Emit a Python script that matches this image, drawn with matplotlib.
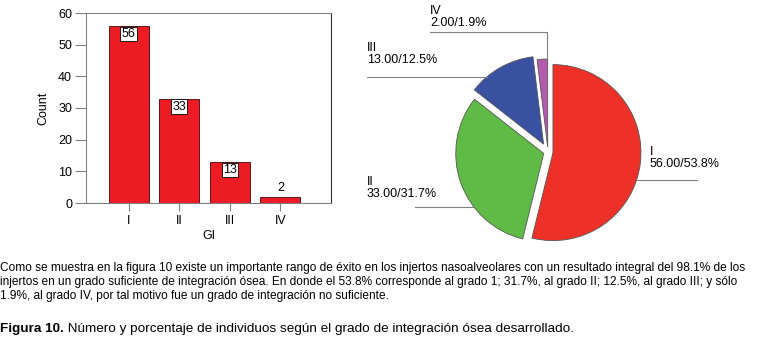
import matplotlib
matplotlib.use('Agg')
import matplotlib.pyplot as plt
import numpy as np

plt.rcParams['font.family'] = ['Liberation Sans', 'DejaVu Sans']

# datos
grados = ['I', 'II', 'III', 'IV']
conteo = [56, 33, 13, 2]
colores_pie = ['#EE3128', '#60BA46', '#3A51A2', '#B35BAC']
explode = [5, 4.5, 9, 5]

parrafo = [
    'Como se muestra en la figura 10 existe un importante rango de éxito en los injertos nasoalveolares con un resultado integral del 98.1% de los',
    'injertos en un grado suficiente de integración ósea. En donde el 53.8% corresponde al grado 1; 31.7%, al grado II; 12.5%, al grado III; y sólo',
    '1.9%, al grado IV, por tal motivo fue un grado de integración no suficiente.',
]
pie_titulo = 'Figura 10.'
pie_texto = ' Número y porcentaje de individuos según el grado de integración ósea desarrollado.'

W, H = 757, 339
fig = plt.figure(figsize=(W / 100, H / 100), dpi=100)

# --- pie (ejes en pixeles) ---
ax2 = fig.add_axes([0, 0, 1, 1])
total = sum(conteo)
wedges, _ = ax2.pie(conteo, colors=colores_pie, startangle=90, counterclock=False,
                    radius=88, center=(548, H - 152), explode=explode,
                    wedgeprops=dict(edgecolor='#555555', linewidth=0.6))
ax2.set_aspect('auto')
ax2.set_xlim(0, W)
ax2.set_ylim(0, H)
ax2.axis('off')

etiquetas = ['%s\n%.2f/%.1f%%' % (g, c, 100.0 * c / total) for g, c in zip(grados, conteo)]
# posicion del texto (x, y arriba) y altura de la linea guia, en pixeles
pos_txt = [(650, 146), (367, 176), (367, 42), (430, 5)]
linea_y = [180, 207, 77, 32]
gris = '#808080'
for i, w in enumerate(wedges):
    cx, cy = w.center
    r = w.r
    tx, ty = pos_txt[i]
    ax2.text(tx, H - ty, etiquetas[i], fontsize=9, va='top', ha='left', linespacing=1.05)
    ly = H - linea_y[i]
    if i == 3:
        tm = np.deg2rad(0.5 * (w.theta1 + w.theta2))
        px = cx + r * np.cos(tm) * 0.2
        top = cy + np.sqrt(r ** 2 - (px - cx) ** 2)
        ax2.plot([tx, px, px], [ly, ly, top], color=gris, lw=0.8)
    elif i == 0:
        x0 = cx + np.sqrt(r ** 2 - (ly - cy) ** 2)
        ax2.plot([x0, 697], [ly, ly], color=gris, lw=0.8)
    else:
        x0 = cx - np.sqrt(r ** 2 - (ly - cy) ** 2)
        x_ini = tx if i == 2 else 415
        ax2.plot([x_ini, x0], [ly, ly], color=gris, lw=0.8)

# --- barras ---
ax = fig.add_axes([86 / W, (H - 203) / H, 245 / W, 190 / H])
x = np.arange(len(grados))
barras = ax.bar(x, conteo, width=0.79, color='#ED1C24', edgecolor='#5a1a1a', linewidth=0.7)
ax.set_xlim(-0.84, 4.0)
ax.set_ylim(0, 60)
ax.set_yticks(range(0, 61, 10))
ax.set_xticks(x)
ax.set_xticklabels(grados)
ax.tick_params(axis='y', direction='out', length=8, width=0.8, color=gris, labelsize=9, pad=2)
ax.tick_params(axis='x', direction='out', length=6, width=0.8, color=gris, labelsize=9, pad=3)
for s in ['left', 'top', 'bottom']:
    ax.spines[s].set_color(gris)
ax.spines['right'].set_color('#333333')
ax.set_xlabel('GI', fontsize=9, labelpad=2)
ax.set_ylabel('Count', fontsize=9, labelpad=6)

for xi, c in zip(x, conteo):
    if c >= 10:
        ax.annotate(str(c), (xi, c), xytext=(0, -1.5), textcoords='offset points',
                    ha='center', va='top', fontsize=9,
                    bbox=dict(boxstyle='square,pad=0.1', fc='white', ec='black', lw=0.6))
    else:
        ax.annotate(str(c), (xi, c), xytext=(0, 2), textcoords='offset points',
                    ha='center', va='bottom', fontsize=9)

# --- texto inferior ---
for k, linea in enumerate(parrafo):
    fig.text(0.5 / W, 1 - (268 + 14 * k) / H, linea, fontsize=8.55, va='center', ha='left')

t1 = fig.text(0.5 / W, 1 - 329 / H, pie_titulo, fontsize=9.7, fontweight='bold', va='center', ha='left')
fig.canvas.draw()
bb = t1.get_window_extent()
fig.text(bb.x1 / W, 1 - 329 / H, pie_texto, fontsize=9.7, va='center', ha='left')

fig.savefig('out.png', dpi=100)
